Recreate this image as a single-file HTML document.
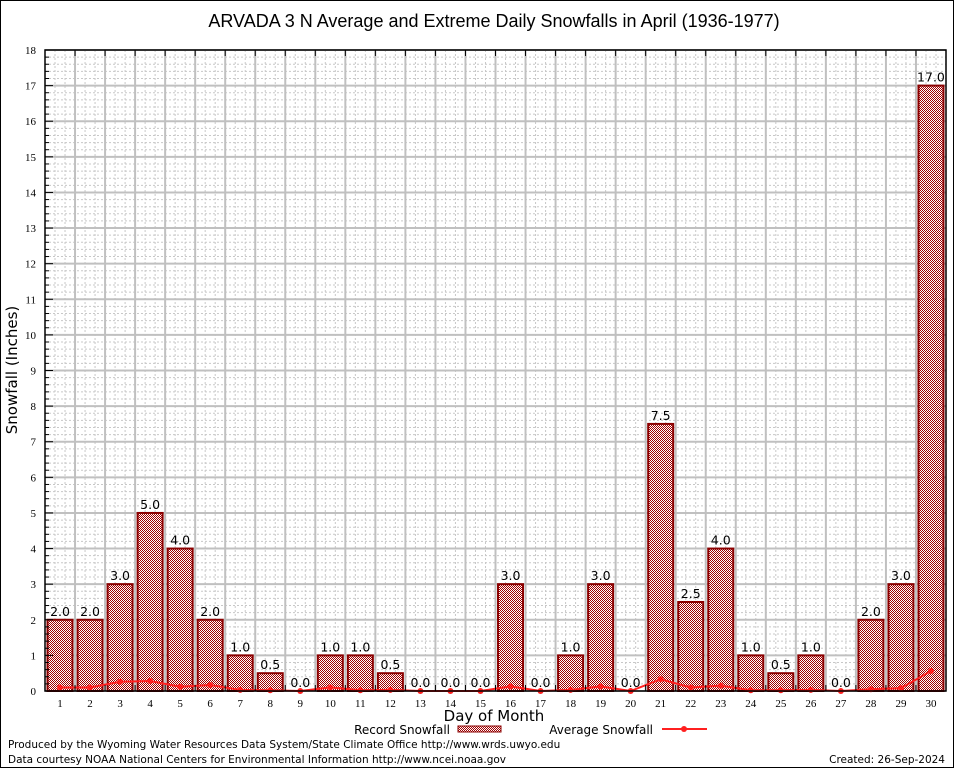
<!DOCTYPE html>
<html><head><meta charset="utf-8"><style>
body{margin:0;background:#fff;}
svg{display:block;font-family:"DejaVu Sans","Liberation Sans",sans-serif;}
</style></head><body>
<svg id="c" width="954" height="768" viewBox="0 0 954 768">
<defs>
<pattern id="hatch" width="2" height="2" patternUnits="userSpaceOnUse">
<rect width="2" height="2" fill="#fff"/><rect width="1" height="1" fill="#a00000"/><rect x="1" y="1" width="1" height="1" fill="#a00000"/>
</pattern>
</defs>
<rect x="0.5" y="0.5" width="953" height="767" fill="#fff" stroke="#000"/>
<text x="494" y="27" font-size="18" text-anchor="middle" font-family="Liberation Sans,sans-serif">ARVADA 3 N Average and Extreme Daily Snowfalls in April (1936-1977)</text>
<g id="grid"></g>
<g id="bars"></g>
<g id="line"></g>
<g id="axes"></g>
<text transform="translate(17,370) rotate(-90)" font-size="15" text-anchor="middle">Snowfall (Inches)</text>
<text x="494" y="721" font-size="15" text-anchor="middle">Day of Month</text>
<g>
<text x="450" y="734" font-size="12" text-anchor="end">Record Snowfall</text>
<rect x="458" y="726" width="43" height="6" fill="url(#hatch)" stroke="#8b0000"/>
</g>
<g>
<text x="653" y="734" font-size="12" text-anchor="end">Average Snowfall</text>
<line x1="662" y1="729" x2="707" y2="729" stroke="#ff2020" stroke-width="2"/>
<circle cx="684" cy="729" r="3" fill="#ff2020"/>
</g>
<text x="8" y="748" font-size="10.5">Produced by the Wyoming Water Resources Data System/State Climate Office http://www.wrds.uwyo.edu</text>
<text x="8" y="763" font-size="10.5">Data courtesy NOAA National Centers for Environmental Information http://www.ncei.noaa.gov</text>
<text x="945" y="763" font-size="10.5" text-anchor="end">Created: 26-Sep-2024</text>
</svg>
<script>
const days=[1,2,3,4,5,6,7,8,9,10,11,12,13,14,15,16,17,18,19,20,21,22,23,24,25,26,27,28,29,30];
const records=[2,2,3,5,4,2,1,0.5,0,1,1,0.5,0,0,0,3,0,1,3,0,7.5,2.5,4,1,0.5,1,0,2,3,17];
const averages=[0.1,0.1,0.26,0.28,0.12,0.17,0.03,0.02,0,0.1,0.02,0.03,0,0,0,0.13,0,0.03,0.13,0,0.33,0.1,0.15,0.02,0.02,0.03,0,0.05,0.08,0.56];
const yTicks=[0,1,2,3,4,5,6,7,8,9,10,11,12,13,14,15,16,17,18];
const NS="http://www.w3.org/2000/svg";
const L=45,R=946,T=50,B=691,yMax=18;
const step=(R-L)/days.length;
function x(d){return L+(d-0.5)*step;}
function y(v){return B-(v/yMax)*(B-T);}
function mk(p,tag,at){const e=document.createElementNS(NS,tag);for(const k in at)e.setAttribute(k,at[k]);p.appendChild(e);return e;}
const g=document.getElementById('grid'),gb=document.getElementById('bars'),gl=document.getElementById('line'),ga=document.getElementById('axes');
mk(g,'rect',{x:L,y:T,width:R-L,height:B-T,fill:'#fff'});
for(let v=0;v<yMax;v+=0.2){const yy=y(v);if(Math.abs(v-Math.round(v))<0.01)continue;mk(g,'line',{x1:L,x2:R,y1:yy,y2:yy,stroke:'#c8c8c8','stroke-dasharray':'2,2'});}
for(let i=0;i<days.length;i++){for(let k=1;k<3;k++){const xx=L+i*step+k*step/3;mk(g,'line',{x1:xx,x2:xx,y1:T,y2:B,stroke:'#c8c8c8','stroke-dasharray':'2,2'});}}
yTicks.forEach(t=>{const yy=y(t);mk(g,'line',{x1:L,x2:R,y1:yy,y2:yy,stroke:'#c0c0c0','stroke-width':2});
const tx=mk(ga,'text',{x:36,y:yy+4,'font-size':11,'text-anchor':'end','font-family':'Liberation Serif,serif'});tx.textContent=t;


for(let k=1;k<5&&t<yMax;k++){const my=y(t+k*0.2);mk(ga,'line',{x1:L,x2:L+4,y1:my,y2:my,stroke:'#000'});}
mk(ga,'line',{x1:L,x2:L+8,y1:yy,y2:yy,stroke:'#000'});});
for(let i=1;i<days.length;i++){const xx=L+i*step;mk(g,'line',{x1:xx,x2:xx,y1:T,y2:B,stroke:'#c0c0c0','stroke-width':2});}
days.forEach((d,i)=>{const v=records[i];const bw=25;
if(v>0){const r=mk(gb,'rect',{x:x(d)-bw/2,y:y(v),width:bw,height:B-y(v),fill:'url(#hatch)',stroke:'#8b0000','stroke-width':2});

}
const lb=mk(gb,'text',{x:x(d),y:y(v)-4,'font-size':12.5,'text-anchor':'middle'});lb.textContent=v.toFixed(1);


const tl=mk(ga,'text',{x:x(d),y:B+16,'font-size':11,'text-anchor':'middle','font-family':'Liberation Serif,serif'});tl.textContent=d;


mk(ga,'line',{x1:L+(d)*step,x2:L+(d)*step,y1:T,y2:T+6,stroke:'#000'});
mk(ga,'line',{x1:L+(d)*step,x2:L+(d)*step,y1:B,y2:B-6,stroke:'#000'});});
const pts=days.map((d,i)=>x(d)+','+y(averages[i])).join(' ');
const pl=mk(gl,'polyline',{points:pts,fill:'none',stroke:'#ff2020','stroke-width':2});


days.forEach((d,i)=>{const c=mk(gl,'circle',{cx:x(d),cy:y(averages[i]),r:3,fill:'#ff2020'});

});
const fr=mk(ga,'rect',{x:L,y:T,width:R-L,height:B-T,fill:'none',stroke:'#000','stroke-width':1.5});


</script>
</body></html>
